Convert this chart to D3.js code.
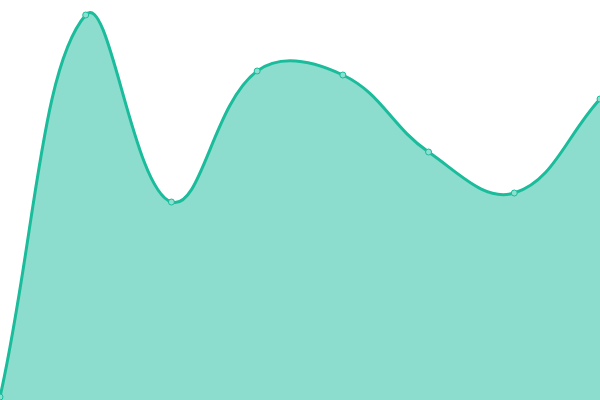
<!DOCTYPE html>
<html>
<head>
<meta charset="utf-8">
<script src="https://cdn.jsdelivr.net/npm/d3@7"></script>
<style>
  html, body { margin: 0; padding: 0; background: #fff; }
  svg { display: block; }
</style>
</head>
<body>
<svg id="chart" width="600" height="400"></svg>
<script>
// data
const categories = [0, 1, 2, 3, 4, 5, 6, 7];
const values = [3, 385, 198, 329, 325, 248, 207, 301];

const width = 600;
const height = 400;
const tension = 0.4;

// spline with distance-weighted control points (tension 0.4)
function SplineCurve(context) { this._context = context; }
SplineCurve.prototype = {
  areaStart() { this._line = 0; },
  areaEnd() { this._line = NaN; },
  lineStart() { this._pts = []; },
  point(x, y) { this._pts.push([+x, +y]); },
  lineEnd() {
    const p = this._pts, n = p.length, ctx = this._context;
    if (n) {
      if (this._line) ctx.lineTo(p[0][0], p[0][1]);
      else ctx.moveTo(p[0][0], p[0][1]);
      const cps = p.map((cur, i) => {
        const prev = p[i - 1] || cur, next = p[i + 1] || cur;
        const d01 = Math.hypot(cur[0] - prev[0], cur[1] - prev[1]);
        const d12 = Math.hypot(next[0] - cur[0], next[1] - cur[1]);
        let s01 = d01 / (d01 + d12), s12 = d12 / (d01 + d12);
        if (isNaN(s01)) s01 = 0;
        if (isNaN(s12)) s12 = 0;
        const fa = tension * s01, fb = tension * s12;
        const dx = next[0] - prev[0], dy = next[1] - prev[1];
        return {
          inX: cur[0] - fa * dx, inY: cur[1] - fa * dy,
          outX: cur[0] + fb * dx, outY: cur[1] + fb * dy
        };
      });
      for (let i = 1; i < n; i++) {
        ctx.bezierCurveTo(cps[i - 1].outX, cps[i - 1].outY, cps[i].inX, cps[i].inY, p[i][0], p[i][1]);
      }
    }
    if (this._line || (this._line !== 0 && n === 1)) ctx.closePath();
    this._line = 1 - this._line;
  }
};
const curveSpline = context => new SplineCurve(context);

const svg = d3.select('#chart');

const x = d3.scaleLinear()
  .domain([0, categories.length - 1])
  .range([0, width]);

const y = d3.scaleLinear()
  .domain([0, 400])
  .range([height, 0]);

const data = categories.map((c, i) => ({ c, v: values[i] }));

const area = d3.area()
  .x(d => x(d.c))
  .y0(height)
  .y1(d => y(d.v))
  .curve(curveSpline);

const line = d3.line()
  .x(d => x(d.c))
  .y(d => y(d.v))
  .curve(curveSpline);

svg.append('path')
  .datum(data)
  .attr('d', area)
  .attr('fill', '#1abc9c')
  .attr('fill-opacity', 0.5);

svg.append('path')
  .datum(data)
  .attr('d', line)
  .attr('fill', 'none')
  .attr('stroke', '#1abc9c')
  .attr('stroke-width', 3);

// points
svg.append('g')
  .selectAll('circle')
  .data(data)
  .enter()
  .append('circle')
  .attr('cx', d => x(d.c))
  .attr('cy', d => y(d.v))
  .attr('r', 3)
  .attr('fill', '#8ce0cf')
  .attr('stroke', '#1abc9c')
  .attr('stroke-width', 1);
</script>
</body>
</html>
